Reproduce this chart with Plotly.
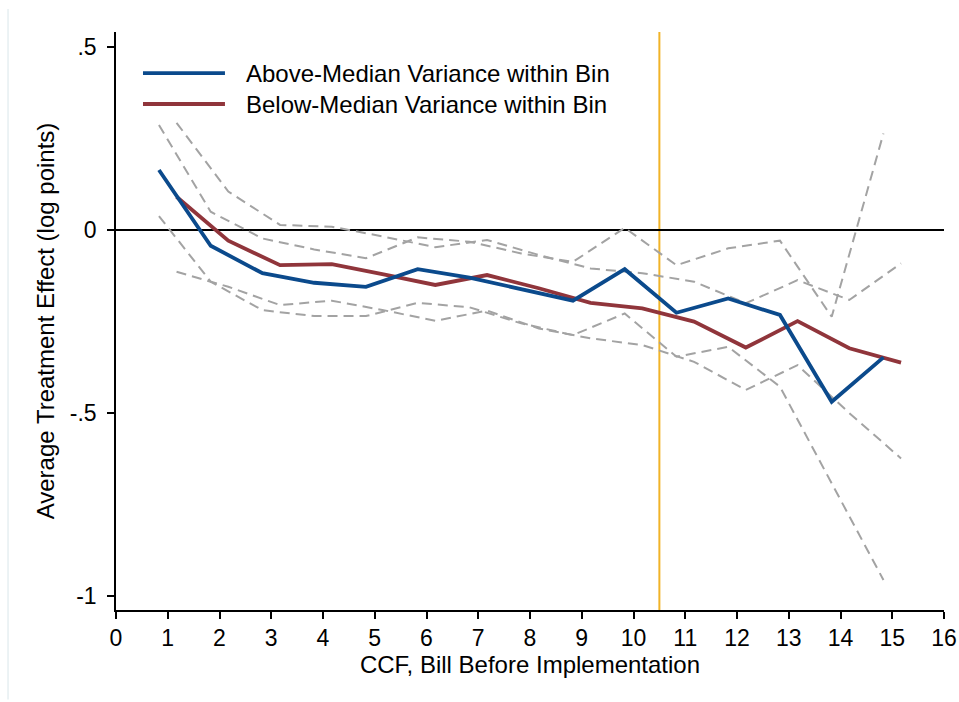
import plotly.graph_objects as go

# ---- data ----
x_above = [0.83, 1.83, 2.83, 3.83, 4.83, 5.83, 6.83, 7.83, 8.83, 9.83, 10.83, 11.83, 12.83, 13.83, 14.83]
above = [0.164, -0.043, -0.118, -0.144, -0.155, -0.107, -0.130, -0.162, -0.193, -0.107, -0.226, -0.187, -0.232, -0.469, -0.348]
above_hi = [0.287, 0.050, -0.023, -0.053, -0.077, -0.020, -0.032, -0.064, -0.087, 0.006, -0.096, -0.050, -0.029, -0.237, 0.264]
above_lo = [0.038, -0.141, -0.219, -0.235, -0.235, -0.199, -0.211, -0.255, -0.287, -0.228, -0.346, -0.319, -0.428, -0.692, -0.956]

x_below = [1.17, 2.17, 3.17, 4.17, 5.17, 6.17, 7.17, 8.17, 9.17, 10.17, 11.17, 12.17, 13.17, 14.17, 15.17]
below = [0.091, -0.029, -0.096, -0.093, -0.121, -0.150, -0.123, -0.159, -0.199, -0.214, -0.250, -0.321, -0.249, -0.323, -0.362]
below_hi = [0.293, 0.105, 0.014, 0.009, -0.018, -0.047, -0.027, -0.068, -0.105, -0.118, -0.141, -0.200, -0.137, -0.191, -0.091]
below_lo = [-0.114, -0.155, -0.205, -0.193, -0.219, -0.248, -0.220, -0.269, -0.296, -0.314, -0.360, -0.437, -0.369, -0.500, -0.624]

implementation_x = 10.5
x_ticks = list(range(0, 17))
y_tickvals = [0.5, 0, -0.5, -1]
y_ticktext = [".5", "0", "-.5", "-1"]
series_names = ["Above-Median Variance within Bin", "Below-Median Variance within Bin"]

BLUE = "#0b4a8c"
RED = "#90353b"
GRAY = "#a3a3a3"
ORANGE = "#f1b328"
FONT = "Liberation Sans, Arial, sans-serif"
NARROW = "Liberation Sans Narrow, Arial Narrow, Liberation Sans, sans-serif"

fig = go.Figure()

dash_line = dict(color=GRAY, width=2, dash="10px,6px")
for xs, ys in [(x_above, above_hi), (x_above, above_lo), (x_below, below_hi), (x_below, below_lo)]:
    fig.add_trace(go.Scatter(x=xs, y=ys, mode="lines", line=dash_line, showlegend=False, hoverinfo="skip"))

fig.add_trace(go.Scatter(x=x_below, y=below, mode="lines", name=series_names[1],
                         line=dict(color=RED, width=3.8), showlegend=False))
fig.add_trace(go.Scatter(x=x_above, y=above, mode="lines", name=series_names[0],
                         line=dict(color=BLUE, width=3.8), showlegend=False))

# vertical implementation line
fig.add_shape(type="line", xref="x", yref="paper", x0=implementation_x, x1=implementation_x,
              y0=0, y1=1, line=dict(color=ORANGE, width=2), layer="below")

# custom legend (long key lines like the original)
legend_rows = [(0.929, BLUE, series_names[0]), (0.8754, RED, series_names[1])]
for yp, col, txt in legend_rows:
    fig.add_shape(type="line", xref="paper", yref="paper", x0=0.0326, x1=0.1316, y0=yp, y1=yp,
                  line=dict(color=col, width=3.8))
    fig.add_annotation(xref="paper", yref="paper", x=0.1546, y=yp, text=txt, showarrow=False,
                       xanchor="left", yanchor="middle", font=dict(family=FONT, size=24, color="black"))

# faint outer frame line at left
fig.add_shape(type="line", xref="paper", yref="paper", x0=-0.1304, x1=-0.1304, y0=-0.155, y1=1.04,
              line=dict(color="#e6eff1", width=1.5))

fig.update_layout(
    width=959, height=702,
    margin=dict(l=116, r=15, t=32, b=92),
    paper_bgcolor="white", plot_bgcolor="white",
    font=dict(family=FONT, size=24, color="black"),
    showlegend=False,
)
fig.update_xaxes(
    range=[0, 16], tickvals=x_ticks, ticktext=[str(t) for t in x_ticks],
    showgrid=False, zeroline=False, showline=True, linecolor="black", linewidth=1.5,
    ticks="outside", ticklen=7, tickwidth=1.5, tickcolor="black", automargin=False,
    ticklabeloverflow="allow",
    title=dict(text="CCF, Bill Before Implementation", standoff=0, font=dict(family=FONT, size=24)),
    tickfont=dict(family=NARROW, size=23),
)
fig.update_yaxes(
    range=[-1.038, 0.541], tickvals=y_tickvals, ticktext=y_ticktext,
    showgrid=False, zeroline=True, zerolinecolor="black", zerolinewidth=1.5,
    showline=True, linecolor="black", linewidth=1.5, automargin=False,
    ticks="outside", ticklen=7, tickwidth=1.5, tickcolor="black",
    title=dict(text="Average Treatment Effect (log points)", standoff=8, font=dict(family=FONT, size=24)),
    tickfont=dict(family=NARROW, size=23), tickangle=0, ticklabelstandoff=6,
)

fig.write_html("out.html")
